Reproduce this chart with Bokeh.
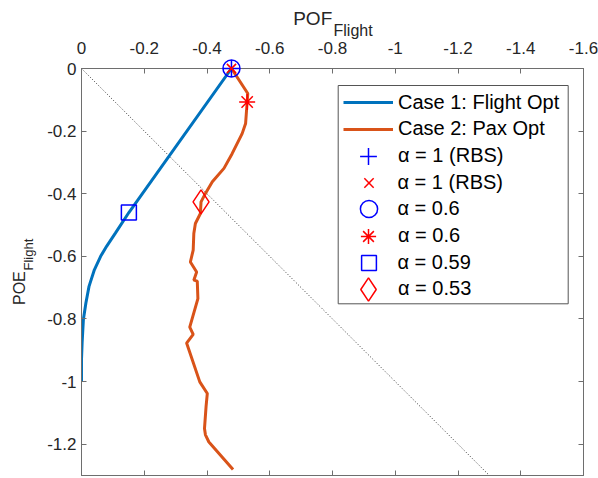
import math
from bokeh.plotting import figure
from bokeh.models import (Range1d, LinearAxis, FixedTicker, Legend, LegendItem,
                          Title, BoxAnnotation)
from bokeh.embed import file_html
from bokeh.resources import INLINE

# ---------------- data ----------------
case1_x = [-0.478, -0.151, -0.108, -0.080, -0.061, -0.041, -0.024, -0.014,
           -0.006, -0.002, 0.0, 0.0]
case1_y = [0.0, -0.460, -0.526, -0.568, -0.600, -0.643, -0.696, -0.749,
           -0.802, -0.876, -0.929, -1.0]

case2_x = [-0.478, -0.530, -0.528, -0.523, -0.512, -0.480, -0.454, -0.417,
           -0.395, -0.381, -0.379, -0.363, -0.358, -0.356, -0.347, -0.367,
           -0.358, -0.369, -0.371, -0.345, -0.356, -0.335, -0.377, -0.401,
           -0.397, -0.392, -0.395, -0.406, -0.483]
case2_y = [0.0, -0.080, -0.107, -0.176, -0.208, -0.272, -0.319, -0.362,
           -0.399, -0.426, -0.463, -0.495, -0.527, -0.580, -0.618, -0.650,
           -0.676, -0.679, -0.735, -0.826, -0.849, -0.877, -1.001, -1.038,
           -1.080, -1.150, -1.170, -1.193, -1.281]

diag_x = [0.0, -1.3]
diag_y = [0.0, -1.3]

rbs_x, rbs_y = [-0.478], [0.0]            # alpha = 1 (RBS), both cases
c1_a06_x, c1_a06_y = [-0.478], [0.0]      # case 1, alpha = 0.6
c2_a06_x, c2_a06_y = [-0.528], [-0.107]   # case 2, alpha = 0.6
c1_a059_x, c1_a059_y = [-0.151], [-0.460] # case 1, alpha = 0.59
c2_a053_x, c2_a053_y = [-0.381], [-0.426] # case 2, alpha = 0.53

x_ticks = [0, -0.2, -0.4, -0.6, -0.8, -1, -1.2, -1.4, -1.6]
x_tick_labels = ["0", "-0.2", "-0.4", "-0.6", "-0.8", "-1", "-1.2", "-1.4", "-1.6"]
y_ticks = [0, -0.2, -0.4, -0.6, -0.8, -1, -1.2]
y_tick_labels = ["0", "-0.2", "-0.4", "-0.6", "-0.8", "-1", "-1.2"]

legend_labels = ["Case 1: Flight Opt", "Case 2: Pax Opt", "α = 1 (RBS)",
                 "α = 1 (RBS)", "α = 0.6", "α = 0.6", "α = 0.59", "α = 0.53"]

FONT = "Liberation Sans"
TXT = "#262626"
AX = "#6e6e6e"

W, H = 598, 478
FL, FR, FT, FB = 81, 15, 68, 3          # frame borders
p = figure(width=W, height=H, output_backend="svg", toolbar_location=None,
           x_range=Range1d(0, -1.6), y_range=Range1d(-1.3, 0),
           x_axis_location="above",
           min_border_left=FL, min_border_right=FR, min_border_top=FT,
           min_border_bottom=FB)
p.grid.visible = False
p.outline_line_color = AX
p.background_fill_color = "white"


def style_axis(ax, ticks, labels, show_labels=True, standoff=8):
    ax.ticker = FixedTicker(ticks=ticks)
    ax.major_tick_in = 5
    ax.major_tick_out = 0
    ax.minor_tick_line_color = None
    ax.axis_line_color = AX
    ax.major_tick_line_color = AX
    ax.axis_label = None
    if show_labels:
        ax.major_label_overrides = dict(zip(ticks, labels))
        ax.major_label_text_font = FONT
        ax.major_label_text_color = TXT
        ax.major_label_text_font_size = "17px"
        ax.major_label_standoff = standoff
    else:
        ax.major_label_text_color = None
        ax.major_label_text_font_size = "0px"
        ax.major_label_standoff = 0


style_axis(p.xaxis[0], x_ticks, x_tick_labels, standoff=15)
style_axis(p.yaxis[0], y_ticks, y_tick_labels, standoff=5)
bax = LinearAxis()
style_axis(bax, x_ticks, x_tick_labels, show_labels=False)
p.add_layout(bax, "below")
rax = LinearAxis()
style_axis(rax, y_ticks, y_tick_labels, show_labels=False)
p.add_layout(rax, "right")

# axis titles with subscripts (titles in the side panels)
p.add_layout(Title(text="Flight", align="left", offset=252, vertical_align="bottom",
                   standoff=0, text_font=FONT, text_font_size="16px",
                   text_font_style="normal", text_color=TXT), "above")
p.add_layout(Title(text="POF", align="left", offset=211.7, vertical_align="bottom",
                   standoff=-19, text_font=FONT, text_font_size="19px",
                   text_font_style="normal", text_color=TXT), "above")
p.add_layout(Title(text="Flight", align="left", offset=205, vertical_align="bottom",
                   standoff=18, text_font=FONT, text_font_size="13px",
                   text_font_style="normal", text_color=TXT), "left")
p.add_layout(Title(text="POE", align="left", offset=170.5, vertical_align="bottom",
                   standoff=-37, text_font=FONT, text_font_size="16px",
                   text_font_style="normal", text_color=TXT), "left")

# reference diagonal
p.line(diag_x, diag_y, line_color="#333333", line_width=1, line_dash="1 2")

l1 = p.line(case1_x, case1_y, line_color="#0072BD", line_width=3)
l2 = p.line(case2_x, case2_y, line_color="#D95319", line_width=3)

mk = dict(line_width=1.5, level="overlay")
m_plus = p.scatter(rbs_x, rbs_y, marker="cross", size=17, line_color="#0000FF", **mk)
m_x = p.scatter(rbs_x, rbs_y, marker="x", size=13, line_color="#FF0000", **mk)
m_circ = p.scatter(c1_a06_x, c1_a06_y, marker="circle", size=17,
                   line_color="#0000FF", fill_alpha=0, **mk)
m_star = p.scatter(c2_a06_x, c2_a06_y, marker="asterisk", size=16,
                   line_color="#FF0000", **mk)
m_sq = p.scatter(c1_a059_x, c1_a059_y, marker="square", size=15,
                 line_color="#0000FF", fill_alpha=0, **mk)
m_dia = p.scatter(c2_a053_x, c2_a053_y, marker="diamond", size=24,
                  line_color="#FF0000", fill_alpha=0, **mk)

# legend frame (screen units, measured from frame bottom-left)
box = BoxAnnotation(left=337.7 - FL, right=567.7 - FL,
                    bottom=(H - FB) - 303.3, top=(H - FB) - 85,
                    left_units="screen", right_units="screen",
                    bottom_units="screen", top_units="screen",
                    fill_color="white", fill_alpha=1.0,
                    line_color="#555555", line_width=1, line_alpha=1.0)
p.add_layout(box)

# one single-item legend per entry so each marker keeps its own size
rends = [l1, l2, m_plus, m_x, m_circ, m_star, m_sq, m_dia]
glyph_sizes = [None, None, 42, 33, 43, 38, 37, 58]
frame_bottom = H - FB
for k, (lab, r, g) in enumerate(zip(legend_labels, rends, glyph_sizes)):
    cy = 102.3 + k * 26.67          # item centre, canvas px from top
    if g is None:
        gw, gh, left, stand = 50, 24, 343, 5
    else:
        gw = gh = g
        left = 368 - g / 2
        stand = max(0, int(round(397.7 - 368 - g / 2)))
    lg = Legend(items=[LegendItem(label=lab, renderers=[r])],
                location=(left - FL, frame_bottom - cy - gh / 2),
                glyph_width=gw, glyph_height=gh, label_height=gh,
                padding=0, margin=0, spacing=0, label_standoff=stand,
                label_text_font=FONT, label_text_font_size="20px",
                label_text_color="#000000", border_line_alpha=0,
                background_fill_alpha=0)
    p.add_layout(lg, "center")

open("out.html", "w").write(file_html(p, INLINE))
